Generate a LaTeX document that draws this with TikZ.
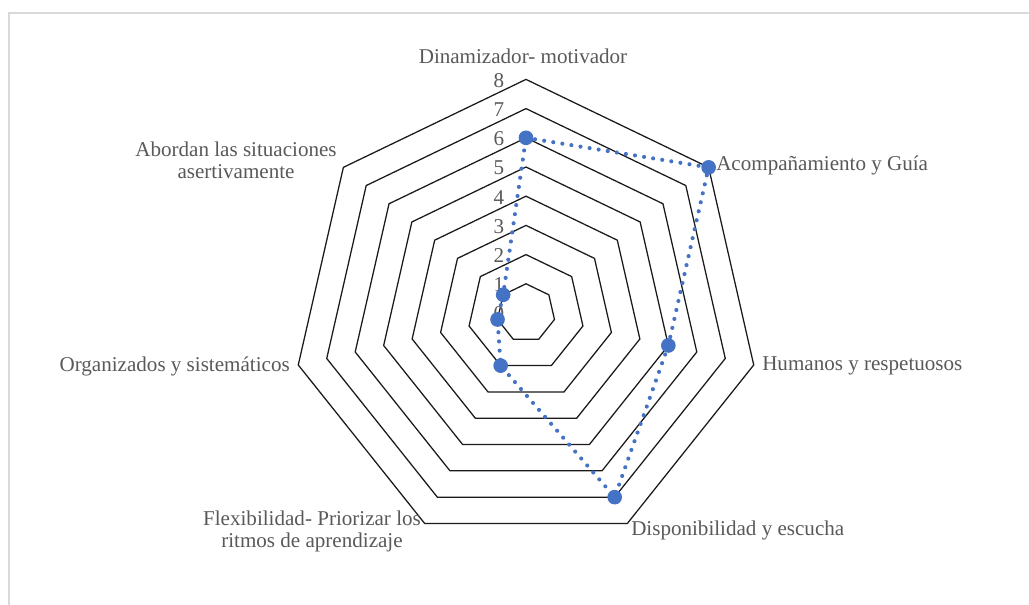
\documentclass[tikz,border=0pt]{standalone}
\usepackage{fontspec}
\setmainfont{Liberation Serif}
\definecolor{labelgray}{HTML}{595959}
\definecolor{seriesblue}{HTML}{4472C4}
\definecolor{framegray}{HTML}{D9D9D9}
\definecolor{ringcol}{HTML}{1A1A1A}
\begin{document}
\begin{tikzpicture}[x=0.75pt,y=-0.75pt,
  ring/.style={draw=ringcol,line width=0.95pt,line join=miter},
  serieslink/.style={draw=seriesblue,line width=3.1pt,line cap=round,dash pattern=on 0pt off 6.9pt},
  marker/.style={circle,fill=seriesblue,inner sep=0pt,minimum size=11pt},
  axislabel/.style={text=labelgray,font=\fontsize{15.8}{16.5}\selectfont,inner sep=0pt},
  ticklabel/.style={text=labelgray,font=\fontsize{15.8}{16.5}\selectfont,inner sep=0pt}]
\useasboundingbox (0,0) rectangle (1029,605);
\draw[framegray,line width=0.8pt] (9,605) -- (9,13) -- (1029,13);
\begin{scope}[shift={(526,313)}]
  \coordinate (O) at (0,0);
  \foreach \r in {1,...,8}{
    \draw[ring] (-90:\r*29.2) \foreach \k in {1,...,6}{ -- (-90+\k*360/7:\r*29.2) } -- cycle;
  }
  \foreach \r in {0,...,8}{
    \node[ticklabel] (t\r) at (-27,-\r*29.2+1) {\r};
  }
  \foreach \v [count=\k from 0] in {6,8,5,7,2,1,1}{
    \coordinate (p\k) at (-90+\k*360/7:\v*29.2);
  }
  \draw[serieslink] (p0) -- (p1) -- (p2) -- (p3) -- (p4) -- (p5) -- (p6) -- cycle;
  \foreach \k in {0,...,6}{
    \node[marker] (m\k) at (p\k) {};
  }
\end{scope}
\node[axislabel] (a0) at (523,56) {Dinamizador- motivador};
\node[axislabel,anchor=west] (a1) at (716,165) {Acompañamiento y Guía};
\node[axislabel,anchor=west] (a2) at (762,366) {Humanos y respetuosos};
\node[axislabel,anchor=west] (a3) at (631,530) {Disponibilidad y escucha};
\node[axislabel,align=center] (a4) at (312,531) {Flexibilidad- Priorizar los\\ritmos de aprendizaje};
\node[axislabel,anchor=east] (a5) at (290,366) {Organizados y sistemáticos};
\node[axislabel,align=center] (a6) at (236,160) {Abordan las situaciones\\asertivamente};
\end{tikzpicture}
\end{document}
